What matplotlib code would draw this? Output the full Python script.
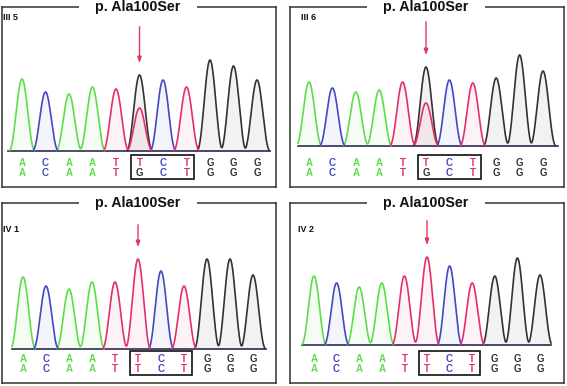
import numpy as np
import matplotlib
matplotlib.use("Agg")
import matplotlib.pyplot as plt
from matplotlib.patches import Rectangle

# ---------------- data ----------------
title = "p. Ala100Ser"
panel_labels = ["III 5", "III 6", "IV 1", "IV 2"]

# base called for the main (tallest) peak at each position
het_main_bases = list("ACAATGCTGGG")
hom_main_bases = list("ACAATTCTGGG")

# base-call rows printed under the traces
het_row1 = list("ACAATTCTGGG")
het_row2 = list("ACAATGCTGGG")
hom_row1 = list("ACAATTCTGGG")
hom_row2 = list("ACAATTCTGGG")

# peak heights (signal intensity) of the main peak per position
iii5_heights = [72, 59, 57, 64, 62, 76, 71, 64, 91, 85, 71]
iii6_heights = [64, 58, 54, 56, 64, 79, 66, 63, 68, 91, 75]
iv1_heights = [72, 63, 60, 67, 67, 90, 78, 63, 90, 90, 74]
iv2_heights = [69, 62, 58, 62, 69, 88, 79, 62, 69, 87, 70]

# secondary peak (heterozygous T) at the mutated position
iii5_secondary = ("T", 5, 43)
iii6_secondary = ("T", 5, 43)

mutation_index = 5
boxed_positions = (5, 7)

# ---------------- style ----------------
colors = {"A": "#5fdc4c", "C": "#4646c8", "G": "#303234", "T": "#e2306a"}
arrow_color = "#e0385a"
FONT = ["Liberation Sans", "DejaVu Sans"]

W, H = 567, 386
fig = plt.figure(figsize=(W / 100, H / 100), dpi=100)

# panel boxes in pixels: (left, top, right, bottom), baseline px, first-peak offset px,
# spacing px, trace start/end px
panels = [
    dict(box=(2, 7, 276, 187), base=151, p0=20, sp=23.5, span=(8, 270), heights=iii5_heights,
         main=het_main_bases, sec=iii5_secondary, rows=(het_row1, het_row2), lab_xy=(3, 17)),
    dict(box=(290, 7, 564, 187), base=146, p0=19, sp=23.4, span=(298, 558), heights=iii6_heights,
         main=het_main_bases, sec=iii6_secondary, rows=(het_row1, het_row2), lab_xy=(301, 17)),
    dict(box=(2, 203, 276, 383), base=349, p0=21, sp=23.0, span=(12, 266), heights=iv1_heights,
         main=hom_main_bases, sec=None, rows=(hom_row1, hom_row2), lab_xy=(3, 229)),
    dict(box=(290, 203, 564, 383), base=345, p0=24, sp=22.6, span=(302, 551), heights=iv2_heights,
         main=hom_main_bases, sec=None, rows=(hom_row1, hom_row2), lab_xy=(298, 229)),
]

half_w = 0.57


def peak_shape(x, k, h):
    u = np.clip((x - k) / half_w, -1, 1)
    return h * np.cos(u * np.pi / 2) ** 2.4


for i, p in enumerate(panels):
    l, t, r, b = p["box"]
    ax = fig.add_axes([l / W, 1 - b / H, (r - l) / W, (b - t) / H])
    wpx = r - l
    hpx = b - t
    x0 = -p["p0"] / p["sp"]
    x1 = (wpx - p["p0"]) / p["sp"]
    below = b - p["base"]
    ax.set_xlim(x0, x1)
    ax.set_ylim(-below, hpx - below)
    ax.set_xticks([])
    ax.set_yticks([])
    for s in ax.spines.values():
        s.set_color("#333333")
        s.set_linewidth(1.1)

    s0 = (p["span"][0] - l - p["p0"]) / p["sp"]
    s1 = (p["span"][1] - l - p["p0"]) / p["sp"]
    xs = np.linspace(s0, s1, 1500)
    peaks = [(bch, k, h) for k, (bch, h) in enumerate(zip(p["main"], p["heights"]))]
    if p["sec"] is not None:
        peaks.append(p["sec"])
    traces = {c: np.zeros_like(xs) for c in "ACGT"}
    for bch, k, h in peaks:
        traces[bch] += peak_shape(xs, k, h)
    ax.plot(xs, np.zeros_like(xs), color="#2a2a50", lw=1.2, zorder=1)
    for c in ["A", "C", "G"]:
        y = traces[c]
        ax.fill_between(xs, 0, y, color=colors[c], alpha=0.06, lw=0, zorder=1)
        m = np.where(y > 0.5, y, np.nan)
        ax.plot(xs, m, color=colors[c], lw=1.2, zorder=2)
    y = traces["T"]
    ax.fill_between(xs, 0, y, color=colors["T"], alpha=0.06, lw=0, zorder=1)
    m = np.where(y > 0.5, y, np.nan)
    ax.plot(xs, m, color=colors["T"], lw=1.2, zorder=2.2)

    # base-call letters
    row_y = [0.135, 0.08]
    for row, yy in zip(p["rows"], row_y):
        for k, bch in enumerate(row):
            ax.text(k, yy, bch, transform=ax.get_xaxis_transform(), ha="center",
                    va="center", fontsize=7, fontweight="bold", color=colors[bch],
                    family=FONT)

    # box around codon
    k0, k1 = boxed_positions
    bx0, bx1 = k0 - 0.36, k1 + 0.33
    ax.add_patch(Rectangle((bx0, 0.047), bx1 - bx0, 0.128,
                           transform=ax.get_xaxis_transform(), fill=False,
                           edgecolor="#111111", lw=1.2, zorder=3))

    # arrow at mutated position
    peak_top = p["heights"][mutation_index]
    ax.annotate("", xy=(mutation_index, peak_top + 9), xytext=(mutation_index, 127),
                arrowprops=dict(arrowstyle="-|>,head_length=0.35,head_width=0.12",
                                color=arrow_color, lw=1.0), zorder=4)

    # title across top border
    ax.add_patch(Rectangle((0.28, 0.96), 0.432, 0.08, transform=ax.transAxes,
                           facecolor="white", edgecolor="none", clip_on=False, zorder=5))
    ax.text(0.495, 1.0, title, transform=ax.transAxes, ha="center", va="center",
            fontsize=10.3, fontweight="bold", family=FONT,
            color="#111111", zorder=6, clip_on=False)

    # sample label
    lx, ly = p["lab_xy"]
    fig.text(lx / W, 1 - ly / H, panel_labels[i], ha="left", va="center",
             fontsize=6.5, fontweight="bold", family=FONT, color="#111111")

fig.savefig("out.png", dpi=100)
